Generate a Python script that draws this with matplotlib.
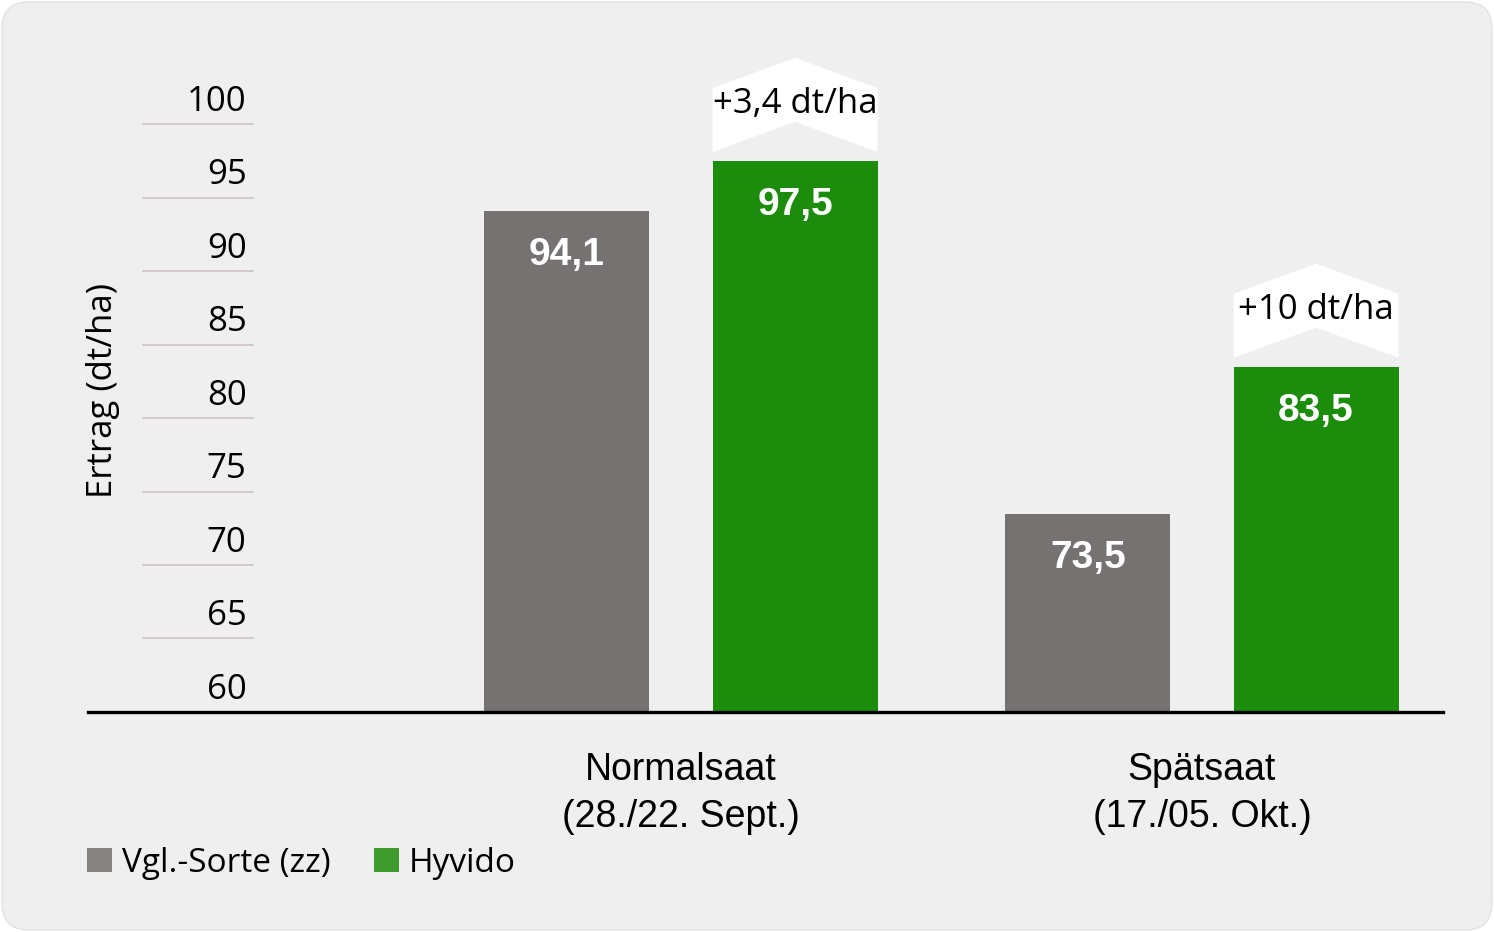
import matplotlib
matplotlib.use("Agg")
import matplotlib.pyplot as plt
from matplotlib.patches import FancyBboxPatch, Polygon, Patch

# data
groups = ["Normalsaat\n(28./22. Sept.)", "Spätsaat\n(17./05. Okt.)"]
vgl = [94.1, 73.5]
hyvido = [97.5, 83.5]
series_names = ["Vgl.-Sorte (zz)", "Hyvido"]
yticks = [60, 65, 70, 75, 80, 85, 90, 95, 100]

gray = "#767271"
green = "#1b8c0b"
gray_leg = "#868382"
green_leg = "#3f9b2d"
bg = "#efefef"

W, H = 1494, 932
fig = plt.figure(figsize=(W / 100, H / 100), dpi=100, facecolor="white")

# rounded card background
card = FancyBboxPatch((2 / W, 2 / H), 1 - 4 / W, 1 - 4 / H,
                      boxstyle="round,pad=0,rounding_size=0.018",
                      transform=fig.transFigure, facecolor=bg,
                      edgecolor="#e2e2e2", lw=1.0, mutation_aspect=W / H,
                      zorder=-5)
fig.patches.append(card)

px = 14.7  # pixels per unit on y
ax_left, ax_right, ax_bottom, ax_top = 88, 1443, 712, 30
ax = fig.add_axes([ax_left / W, 1 - ax_bottom / H,
                   (ax_right - ax_left) / W, (ax_bottom - ax_top) / H])
ax.set_facecolor("none")

unit = 521.0  # pixels between group centres
x0 = -(681 - ax_left) / unit
ax.set_xlim(x0, x0 + (ax_right - ax_left) / unit)
ax.set_ylim(60, 60 + (ax_bottom - ax_top) / px)

w = 165 / unit
off = 0.219
xs = list(range(len(groups)))
b1 = ax.bar([x - off for x in xs], [v - 60 for v in vgl], w, bottom=60,
            color=gray, zorder=2)
b2 = ax.bar([x + off for x in xs], [v - 60 for v in hyvido], w, bottom=60,
            color=green, zorder=2)

fmt = lambda v: f"{v:g}".replace(".", ",")

for bars, vals in ((b1, vgl), (b2, hyvido)):
    for r, v in zip(bars, vals):
        ax.text(r.get_x() + r.get_width() / 2, v - 3.0, fmt(v),
                ha="center", va="center", color="white", fontsize=28,
                fontweight="bold", family="Liberation Sans", zorder=3)

# chevron annotations with the gain
for r, a, b in zip(b2, vgl, hyvido):
    xl, xr = r.get_x(), r.get_x() + r.get_width()
    xc = (xl + xr) / 2
    pts = [(xl, b + 0.6), (xc, b + 2.65), (xr, b + 0.6),
           (xr, b + 4.95), (xc, b + 7.0), (xl, b + 4.95)]
    ax.add_patch(Polygon(pts, closed=True, facecolor="white",
                         edgecolor="none", zorder=2, clip_on=False))
    ax.text(xc, b + 3.85, "+" + fmt(round(b - a, 1)) + " dt/ha",
            ha="center", va="center", fontsize=25, family="Open Sans",
            color="black", zorder=3)

# y tick lines and labels
ytr = ax.get_yaxis_transform()
for t in yticks:
    if t > 60:
        ax.plot([0.0406, 0.1218], [t, t], transform=ytr, color="#cdc3c3",
                lw=1.2, zorder=1, clip_on=False)
    ax.text(0.117, t + 1.5, str(t), transform=ytr, ha="right",
            va="center", fontsize=25, family="Open Sans", color="black")

ax.text(0.0112, 0.472, "Ertrag (dt/ha)", transform=ax.transAxes,
        rotation=90, ha="center", va="center", fontsize=25,
        family="Open Sans", color="black")

ax.set_yticks([])
ax.set_xticks(xs)
ax.set_xticklabels(groups, fontsize=27, family="Liberation Sans",
                   linespacing=1.4)
ax.tick_params(axis="x", length=0, pad=29)
for s in ("top", "right", "left"):
    ax.spines[s].set_visible(False)
ax.spines["bottom"].set_color("black")
ax.spines["bottom"].set_linewidth(2.4)
ax.spines["bottom"].set_zorder(4)

handles = [Patch(facecolor=gray_leg), Patch(facecolor=green_leg)]
fig.legend(handles, series_names, loc="center left",
           bbox_to_anchor=(87 / W, 1 - 863 / H), frameon=False,
           prop={"family": "Open Sans", "size": 24},
           handlelength=0.75, handleheight=0.75, handletextpad=0.3,
           columnspacing=1.3, ncol=2, borderpad=0, borderaxespad=0)

fig.savefig("out.png", dpi=100, facecolor="white")
